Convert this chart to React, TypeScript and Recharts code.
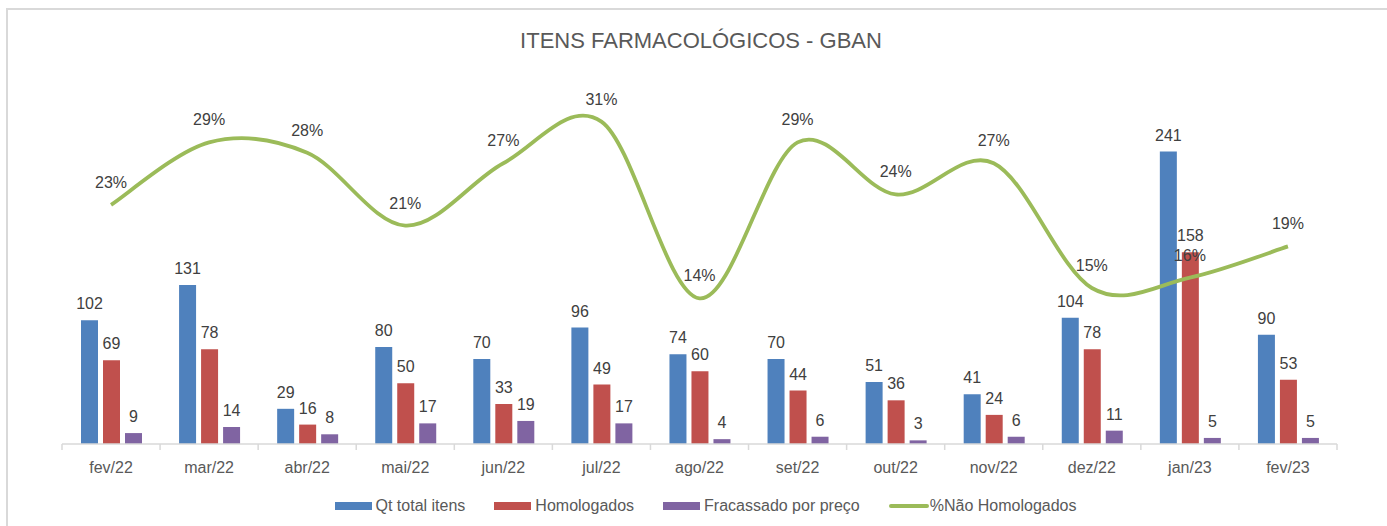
import React from "react";
import { ComposedChart, Bar, Line, XAxis, YAxis, LabelList, Legend } from "recharts";

const categories = ["fev/22","mar/22","abr/22","mai/22","jun/22","jul/22","ago/22","set/22","out/22","nov/22","dez/22","jan/23","fev/23"];
const qtTotal = [102,131,29,80,70,96,74,70,51,41,104,241,90];
const homologados = [69,78,16,50,33,49,60,44,36,24,78,158,53];
const fracassado = [9,14,8,17,19,17,4,6,3,6,11,5,5];
const naoHomologados = [0.23,0.29,0.28,0.21,0.27,0.31,0.14,0.29,0.24,0.27,0.15,0.16,0.19];

const data = categories.map((c, i) => ({
  cat: c,
  qt: qtTotal[i],
  hom: homologados[i],
  fra: fracassado[i],
  pct: naoHomologados[i],
}));

const FONT = '"Liberation Sans", Arial, sans-serif';
const BLUE = "#4F81BD";
const RED = "#C0504D";
const PURPLE = "#8064A2";
const GREEN = "#9BBB59";

// Excel-like smoothing (Catmull-Rom style bezier)
function excelCurve(context: any) {
  let pts: number[][] = [];
  return {
    areaStart() {},
    areaEnd() {},
    lineStart() { pts = []; },
    point(x: number, y: number) { pts.push([+x, +y]); },
    lineEnd() {
      if (!pts.length) return;
      context.moveTo(pts[0][0], pts[0][1]);
      for (let i = 0; i < pts.length - 1; i++) {
        const p0 = pts[i - 1] || pts[i];
        const p1 = pts[i];
        const p2 = pts[i + 1];
        const p3 = pts[i + 2] || p2;
        const c1x = p1[0] + (p2[0] - p0[0]) / 6;
        const c1y = p1[1] + (p2[1] - p0[1]) / 6;
        const c2x = p2[0] - (p3[0] - p1[0]) / 6;
        const c2y = p2[1] - (p3[1] - p1[1]) / 6;
        context.bezierCurveTo(c1x, c1y, c2x, c2y, p2[0], p2[1]);
      }
    },
  };
}

const AxisTick = (props: any) => {
  const { x, y, payload, index, visibleTicksCount } = props;
  const half = payload && payload.offset ? payload.offset : 49;
  const last = index === (visibleTicksCount ?? categories.length) - 1;
  return (
    <g>
      <line x1={x - half} x2={x - half} y1={y} y2={y + 6} stroke="#D9D9D9" strokeWidth={1.5} />
      {last && <line x1={x + half} x2={x + half} y1={y} y2={y + 6} stroke="#D9D9D9" strokeWidth={1.5} />}
      <text x={x} y={y + 29} textAnchor="middle" fill="#595959" fontSize={16} fontFamily={FONT}>
        {payload.value}
      </text>
    </g>
  );
};

const legendItems = [
  { label: "Qt total itens", color: BLUE, type: "rect" },
  { label: "Homologados", color: RED, type: "rect" },
  { label: "Fracassado por preço", color: PURPLE, type: "rect" },
  { label: "%Não Homologados", color: GREEN, type: "line" },
];

const LegendContent = () => (
  <div style={{ display: "flex", justifyContent: "center", alignItems: "center", height: 40, paddingTop: 24, paddingLeft: 12, boxSizing: "border-box", fontFamily: FONT, fontSize: 16, color: "#595959" }}>
    {legendItems.map((it, i) => (
      <div key={i} style={{ display: "flex", alignItems: "center", marginRight: i < legendItems.length - 1 ? 29 : 0 }}>
        {it.type === "rect" ? (
          <span style={{ display: "inline-block", width: 37, height: 8, background: it.color, marginRight: 4 }} />
        ) : (
          <span style={{ display: "inline-block", width: 40, height: 4, borderRadius: 2, background: it.color, marginRight: 1 }} />
        )}
        <span style={{ lineHeight: "16px" }}>{it.label}</span>
      </div>
    ))}
  </div>
);

const pctFmt = (v: any) => `${Math.round(Number(v) * 100)}%`;

export default function App() {
  return (
    <div style={{ position: "absolute", left: 0, top: 0, width: 1387, height: 526, background: "#fff", overflow: "hidden" }}>
      <div style={{ position: "absolute", left: 6, top: 8, width: 1420, height: 560, border: "2px solid #D9D9D9", boxSizing: "border-box" }} />
      <div style={{ position: "absolute", left: 0, top: 28, width: 1402, textAlign: "center", fontFamily: FONT, fontSize: 22, color: "#595959", lineHeight: "26px" }}>
        ITENS FARMACOLÓGICOS - GBAN
      </div>
      <div style={{ position: "absolute", left: 0, top: 0 }}>
        <ComposedChart
          width={1387}
          height={526}
          data={data}
          margin={{ top: 80, right: 50, left: 62, bottom: 12 }}
          barSize={17}
          barGap={5}
        >
          <XAxis
            dataKey="cat"
            xAxisId={0}
            height={30}
            tickSize={0}
            tickMargin={0}
            tickLine={false}
            axisLine={{ stroke: "#D9D9D9", strokeWidth: 1.5 }}
            tick={<AxisTick />}
            interval={0}
          />
          <YAxis yAxisId="left" hide domain={[0, 300]} />
          <YAxis yAxisId="right" orientation="right" hide domain={[0, 0.35]} />
          <Legend verticalAlign="bottom" height={40} content={<LegendContent />} />
          <Bar dataKey="qt" name="Qt total itens" yAxisId="left" fill={BLUE} isAnimationActive={false}>
            <LabelList dataKey="qt" position="top" offset={11} fill="#404040" fontSize={16} fontFamily={FONT} />
          </Bar>
          <Bar dataKey="hom" name="Homologados" yAxisId="left" fill={RED} isAnimationActive={false}>
            <LabelList dataKey="hom" position="top" offset={11} fill="#404040" fontSize={16} fontFamily={FONT} />
          </Bar>
          <Bar dataKey="fra" name="Fracassado por preço" yAxisId="left" fill={PURPLE} isAnimationActive={false}>
            <LabelList dataKey="fra" position="top" offset={11} fill="#404040" fontSize={16} fontFamily={FONT} />
          </Bar>
          <Line
            dataKey="pct"
            name="%Não Homologados"
            yAxisId="right"
            type={excelCurve as any}
            stroke={GREEN}
            strokeWidth={3.8}
            dot={false}
            activeDot={false}
            isAnimationActive={false}
          >
            <LabelList dataKey="pct" position="top" offset={17} fill="#404040" fontSize={16} fontFamily={FONT} formatter={pctFmt} />
          </Line>
        </ComposedChart>
      </div>
    </div>
  );
}
